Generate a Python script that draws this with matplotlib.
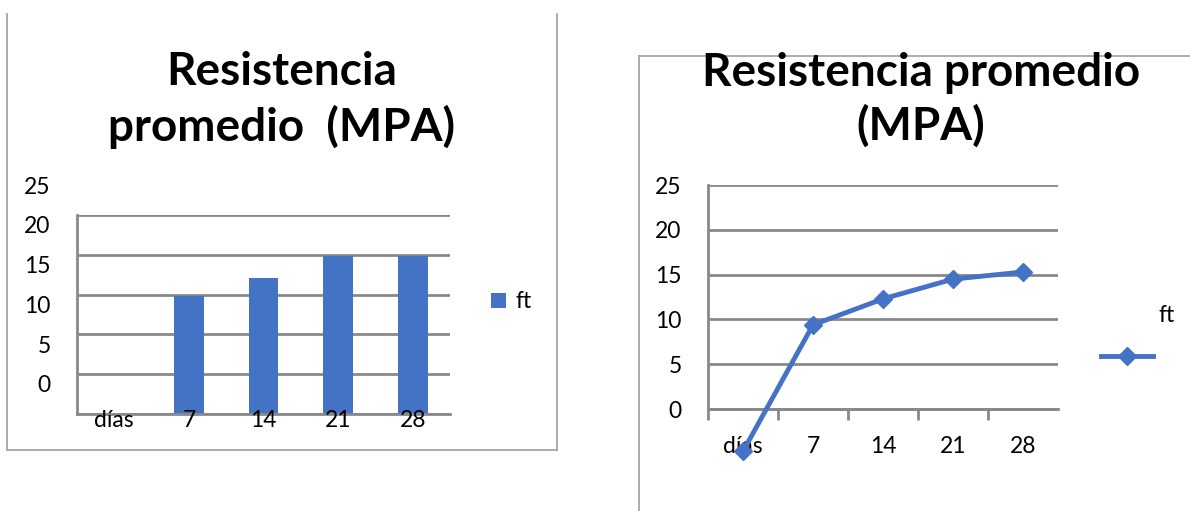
import matplotlib.pyplot as plt
from matplotlib.lines import Line2D
from matplotlib.transforms import ScaledTranslation

# data
categories = ['días', '7', '14', '21', '28']
bar_values = [0, 14.8, 17.1, 19.8, 19.8]
line_values = [-4.7, 9.4, 12.3, 14.5, 15.3]
y_ticks = [0, 5, 10, 15, 20, 25]
series_name = 'ft'
title_left = 'Resistencia\npromedio  (MPA)'
title_right = 'Resistencia promedio\n(MPA)'

BLUE = '#4472C4'
GRID = '#898989'
FRAME = '#A6A6A6'
W, H = 1190, 511
FS = 16.5

plt.rcParams['font.family'] = ['Lato', 'DejaVu Sans']


def box(x0, y0, x1, y1):
    # pixel box -> figure fraction [left, bottom, width, height]
    return [x0 / W, 1 - y1 / H, (x1 - x0) / W, (y1 - y0) / H]


def frame_line(fig, x0, y0, x1, y1):
    fig.add_artist(Line2D([x0 / W, x1 / W], [1 - y0 / H, 1 - y1 / H],
                          color=FRAME, lw=1.3))


fig = plt.figure(figsize=(W / 100, H / 100), dpi=100)

# ---- left: bar chart ----
ax1 = fig.add_axes(box(77, 215, 450, 414))
xpos = list(range(len(categories)))
bars = ax1.bar(xpos, bar_values, width=0.4, color=BLUE)
ax1.set_xlim(-0.5, len(categories) - 0.5)
ax1.set_ylim(0, 25)
ax1.set_yticks(y_ticks)
ax1.set_xticks(xpos, categories)
ax1.set_axisbelow(True)
ax1.xaxis.set_zorder(3)  # category labels sit over the bar feet
ax1.grid(axis='y', color=GRID, lw=2)
for s in ['top', 'right']:
    ax1.spines[s].set_visible(False)
for s in ['left', 'bottom']:
    ax1.spines[s].set_color(GRID)
    ax1.spines[s].set_linewidth(2)
ax1.tick_params(axis='y', length=0, pad=19, labelsize=FS)
ax1.tick_params(axis='x', length=0, pad=-3, labelsize=FS)
for tick in ax1.yaxis.get_major_ticks():
    lab = tick.label1
    lab.set_transform(lab.get_transform() + ScaledTranslation(0, 0.30, fig.dpi_scale_trans))

fig.legend([bars], [series_name], loc='center left',
           bbox_to_anchor=(491 / W, 1 - 302 / H), frameon=False,
           handlelength=0.66, handleheight=0.66, handletextpad=0.4,
           fontsize=FS, borderpad=0, borderaxespad=0)

# ---- right: line chart ----
ax2 = fig.add_axes(box(708, 185, 1058, 454))
xc = [i + 0.5 for i in xpos]
line, = ax2.plot(xc, line_values, color=BLUE, lw=3.5, marker='D', ms=9,
                 clip_on=False, zorder=3)
ax2.set_xlim(0, len(categories))
ax2.set_ylim(-5, 25)
ax2.set_yticks(y_ticks)
ax2.grid(axis='y', color=GRID, lw=2)
ax2.set_xticks(range(len(categories)))
ax2.set_xticklabels([])
ax2.set_xticks(xc, categories, minor=True)
for s in ['top', 'right']:
    ax2.spines[s].set_visible(False)
ax2.spines['bottom'].set_position(('data', 0))
ax2.spines['left'].set_bounds(0, 25)
for s in ['left', 'bottom']:
    ax2.spines[s].set_color(GRID)
    ax2.spines[s].set_linewidth(2)
ax2.tick_params(axis='y', length=0, pad=19, labelsize=FS)
ax2.tick_params(axis='x', which='major', direction='out', length=8, width=2, color=GRID)
ax2.tick_params(axis='x', which='minor', length=0, pad=19, labelsize=FS)

fig.legend([line], [''], loc='center left',
           bbox_to_anchor=(1101 / W, 1 - 358 / H), frameon=False,
           handlelength=2.25, fontsize=FS, borderpad=0, borderaxespad=0)
fig.text(1167 / W, 1 - 315 / H, series_name, ha='center', va='center', fontsize=FS)

# ---- titles and chart borders ----
fig.text(282 / W, 1 - 100 / H, title_left, ha='center', va='center',
         fontsize=33, fontweight='bold', linespacing=1.3)
fig.text(921 / W, 1 - 100 / H, title_right, ha='center', va='center',
         fontsize=33, fontweight='bold', linespacing=1.3)

frame_line(fig, 7, 14, 7, 450)
frame_line(fig, 7, 450, 557, 450)
frame_line(fig, 557, 14, 557, 450)
frame_line(fig, 639, 56, 1190, 56)
frame_line(fig, 639, 56, 639, 511)

fig.savefig('out.png', dpi=100)
